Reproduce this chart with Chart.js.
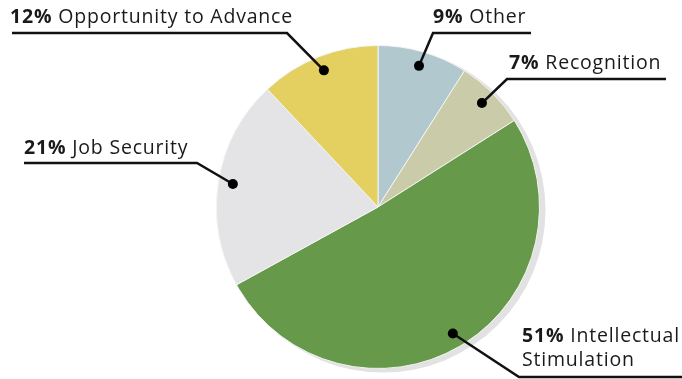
<!DOCTYPE html>
<html>
<head>
<meta charset="utf-8">
<script src="https://cdn.jsdelivr.net/npm/chart.js@4"></script>
<style>
  html, body { margin: 0; padding: 0; background: #fff; }
  #wrap { width: 682px; height: 379px; position: relative; }
</style>
</head>
<body>
<div id="wrap"><canvas id="myChart" width="682" height="379"></canvas></div>
<script>
// Survey answers, clockwise from 12 o'clock
const categories = ['Other', 'Recognition', 'Intellectual Stimulation', 'Job Security', 'Opportunity to Advance'];
const shares = [9, 7, 51, 21, 12];
const sliceColors = ['#b2c8cf', '#c9cba9', '#67994a', '#e4e4e6', '#e3d061'];

// Where each callout sits: text origin, lines of text, underline span, elbow point
const callouts = [
  { x: 433, y: 23, lines: ['Other'], ul: [433, 531, 33], elbow: [433, 33] },
  { x: 509, y: 69, lines: ['Recognition'], ul: [507, 666, 79], elbow: [507, 79] },
  { x: 522, y: 342, lines: ['Intellectual', 'Stimulation'], ul: [519, 682, 377], elbow: [519, 377] },
  { x: 24, y: 154, lines: ['Job Security'], ul: [24, 197, 163], elbow: [197, 163] },
  { x: 10, y: 23, lines: ['Opportunity to Advance'], ul: [12, 287, 33], elbow: [287, 33] }
];

const FONT = '"Open Sans", "Noto Sans", sans-serif';
const FONT_SIZE = 19.5;

// Soft drop shadow behind the pie
const pieShadow = {
  id: 'pieShadow',
  beforeDatasetsDraw(chart) {
    const arc = chart.getDatasetMeta(0).data[0];
    if (!arc) return;
    const ctx = chart.ctx;
    ctx.save();
    ctx.fillStyle = '#e2e2e2';
    ctx.beginPath();
    ctx.arc(arc.x + 5, arc.y + 3, arc.outerRadius + 1, 0, Math.PI * 2);
    ctx.fill();
    ctx.restore();
  }
};

// Leader lines with dots and underlined labels
const callouts_plugin = {
  id: 'callouts',
  afterDatasetsDraw(chart) {
    const ctx = chart.ctx;
    const meta = chart.getDatasetMeta(0);
    ctx.save();
    meta.data.forEach((arc, i) => {
      const c = callouts[i];
      const mid = (arc.startAngle + arc.endAngle) / 2;
      const r = arc.outerRadius * 0.91;
      const dx = arc.x + Math.cos(mid) * r;
      const dy = arc.y + Math.sin(mid) * r;

      ctx.strokeStyle = '#111';
      ctx.lineWidth = 2.5;
      ctx.lineJoin = 'miter';
      ctx.beginPath();
      ctx.moveTo(dx, dy);
      ctx.lineTo(c.elbow[0], c.elbow[1]);
      if (c.elbow[0] === c.ul[0]) {
        ctx.lineTo(c.ul[1], c.ul[2]);
      } else {
        ctx.lineTo(c.ul[0], c.ul[2]);
      }
      ctx.stroke();

      ctx.fillStyle = '#000';
      ctx.beginPath();
      ctx.arc(dx, dy, 5, 0, Math.PI * 2);
      ctx.fill();

      ctx.fillStyle = '#1a1a1a';
      ctx.textBaseline = 'alphabetic';
      ctx.textAlign = 'left';
      ctx.letterSpacing = '0.8px';
      const pct = shares[i] + '%';
      c.lines.forEach((line, j) => {
        let x = c.x;
        const y = c.y + j * 24;
        if (j === 0) {
          ctx.font = 'bold ' + FONT_SIZE + 'px ' + FONT;
          ctx.fillText(pct, x, y);
          x += ctx.measureText(pct).width + 6;
        }
        ctx.font = FONT_SIZE + 'px ' + FONT;
        ctx.fillText(line, x, y);
      });
    });
    ctx.restore();
  }
};

const ctx = document.getElementById('myChart').getContext('2d');
new Chart(ctx, {
  type: 'pie',
  data: {
    labels: categories,
    datasets: [{
      data: shares,
      backgroundColor: sliceColors,
      borderColor: '#f4f4f4',
      borderWidth: 1
    }]
  },
  options: {
    responsive: false,
    animation: false,
    layout: { padding: { left: 216, right: 142, top: 45, bottom: 10 } },
    plugins: {
      legend: { display: false },
      tooltip: { enabled: false }
    }
  },
  plugins: [pieShadow, callouts_plugin]
});
</script>
</body>
</html>
